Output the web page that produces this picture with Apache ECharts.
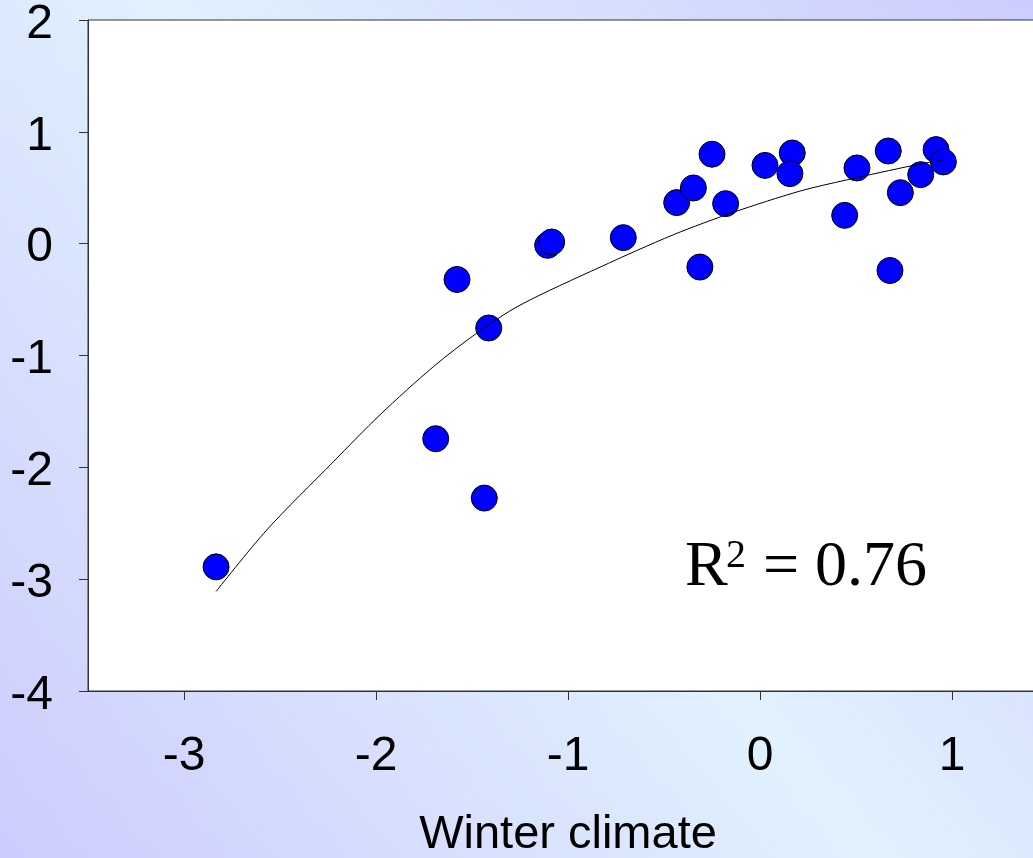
<!DOCTYPE html>
<html>
<head>
<meta charset="utf-8">
<script src="https://cdn.jsdelivr.net/npm/echarts@6/dist/echarts.min.js"></script>
<style>
  html, body { margin: 0; padding: 0; }
  #main { width: 1033px; height: 858px; }
</style>
</head>
<body>
<div id="main"></div>
<script>
// ---- data ----
var winterClimate = [-2.833, -1.689, -1.436, -1.578, -1.413, -1.106, -1.085, -0.712,
  -0.434, -0.347, -0.25, -0.179, -0.313, 0.026, 0.168, 0.156,
  0.441, 0.505, 0.668, 0.677, 0.731, 0.837, 0.917, 0.955];
var response = [-2.89, -1.744, -2.275, -0.32, -0.754, -0.015, 0.015, 0.054,
  0.367, 0.498, 0.80, 0.358, -0.209, 0.70, 0.811, 0.626,
  0.253, 0.677, 0.829, -0.24, 0.456, 0.617, 0.841, 0.731];

// fitted curve
var fitX = [-2.833, -2.569, -2.222, -1.979, -1.701, -1.475, -1.25, -0.833, -0.451, -0.139, 0.208, 0.451, 0.799, 0.955];
var fitY = [-3.11, -2.56, -1.95, -1.53, -1.10, -0.80, -0.55, -0.21, 0.08, 0.28, 0.47, 0.57, 0.70, 0.75];

var xTicks = [-3, -2, -1, 0, 1];
var yTicks = [-4, -3, -2, -1, 0, 1, 2];

var points = winterClimate.map(function (x, i) { return [x, response[i]]; });
var curve = fitX.map(function (x, i) { return [x, fitY[i]]; });

var chart = echarts.init(document.getElementById('main'), null, { renderer: 'canvas' });

var axisColor = '#333';
var labelFont = 'Liberation Sans, Arial, sans-serif';
var serifFont = 'Liberation Serif, Times New Roman, serif';

chart.setOption({
  animation: false,
  backgroundColor: {
    type: 'linear', x: 0, y: 1, x2: 1, y2: 0,
    colorStops: [
      { offset: 0, color: '#ccccfe' },
      { offset: 0.5, color: '#e1f1fd' },
      { offset: 1, color: '#ccccfe' }
    ]
  },
  grid: {
    left: 88, top: 20, right: -15, bottom: 167,
    show: true, backgroundColor: '#fff', borderColor: axisColor, borderWidth: 1,
    outerBoundsMode: 'none'
  },
  xAxis: {
    type: 'value', min: -3.5, max: 1.5,
    name: 'Winter climate', nameLocation: 'middle', nameGap: 121,
    nameTextStyle: { fontSize: 47, color: '#000', fontFamily: labelFont },
    splitLine: { show: false },
    axisLine: { onZero: false, lineStyle: { color: axisColor, width: 1 } },
    axisTick: { show: true, inside: false, length: 9, customValues: xTicks, lineStyle: { color: axisColor } },
    axisLabel: { customValues: xTicks, fontSize: 48, color: '#000', margin: 42, fontFamily: labelFont }
  },
  yAxis: {
    type: 'value', min: yTicks[0], max: yTicks[yTicks.length - 1], interval: 1,
    splitLine: { show: false },
    axisLine: { show: true, onZero: false, lineStyle: { color: axisColor, width: 1 } },
    axisTick: { show: true, inside: false, length: 9, lineStyle: { color: axisColor } },
    axisLabel: { fontSize: 48, color: '#000', margin: 35, fontFamily: labelFont,
      verticalAlign: 'top', lineHeight: 9 }
  },
  graphic: [
    { type: 'text', left: 685, top: 536, z: 100,
      style: { text: 'R', fontSize: 64, fontFamily: serifFont, fill: '#000' } },
    { type: 'text', left: 726, top: 536, z: 100,
      style: { text: '2', fontSize: 40, fontFamily: serifFont, fill: '#000' } },
    { type: 'text', left: 763, top: 536, z: 100,
      style: { text: '= 0.76', fontSize: 64, fontFamily: serifFont, fill: '#000' } }
  ],
  series: [
    {
      type: 'scatter', data: points, symbolSize: 26, z: 2,
      itemStyle: { color: '#0000ff', borderColor: '#000', borderWidth: 1, opacity: 1 }
    },
    {
      type: 'line', data: curve, smooth: 0.3, showSymbol: false, z: 3,
      lineStyle: { color: '#000', width: 1 }
    }
  ]
});
</script>
</body>
</html>
